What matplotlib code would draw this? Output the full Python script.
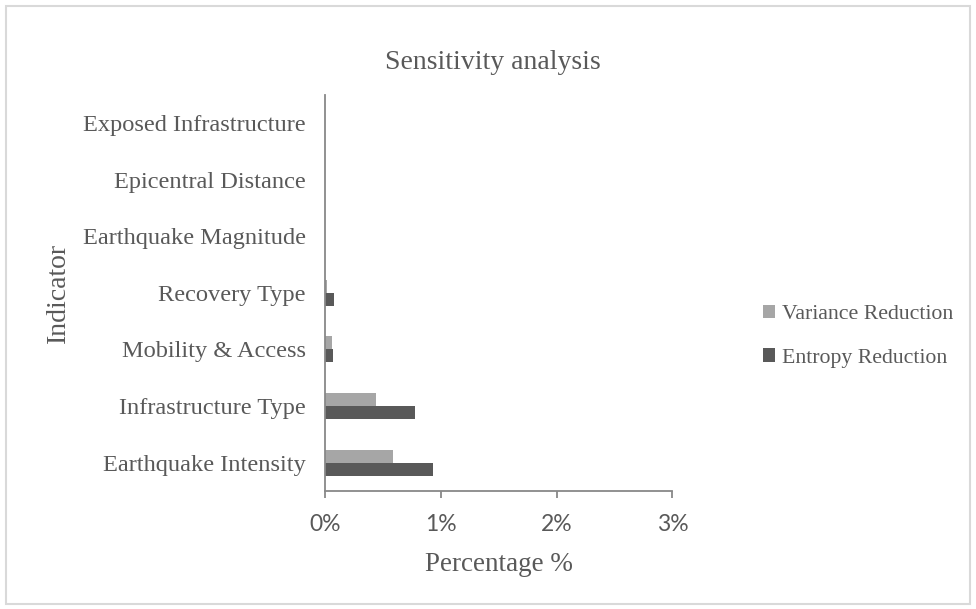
"""Sensitivity analysis bar chart"""

import numpy as np
import matplotlib
matplotlib.use('Agg')
import matplotlib.pyplot as plt
from matplotlib.ticker import FuncFormatter
from matplotlib.patches import Rectangle

# Bottom to top, as drawn
lIndicators = [
	'Earthquake Intensity', 'Infrastructure Type', 'Mobility & Access',
	'Recovery Type', 'Earthquake Magnitude', 'Epicentral Distance',
	'Exposed Infrastructure',
]
aVariance = [0.59, 0.44, 0.06, 0.02, 0.0, 0.0, 0.0]  # percent
aEntropy  = [0.93, 0.78, 0.07, 0.08, 0.0, 0.0, 0.0]  # percent
lTicks = [0, 1, 2, 3]

sText = '#595959'
sSerif = 'Liberation Serif'
sSans = 'Lato'

fig = plt.figure(figsize=(9.76, 6.09), dpi=100)
ax = fig.add_axes([0.333, 0.194, 0.356, 0.65])

aY = np.arange(len(lIndicators))
h = 0.23
ax.barh(aY + h/2, aVariance, height=h, color='#a6a6a6', label='Variance Reduction')
ax.barh(aY - h/2, aEntropy, height=h, color='#595959', label='Entropy Reduction')

ax.set_xlim(0, 3)
ax.set_ylim(-0.5, len(lIndicators) - 0.5)
ax.set_xticks(lTicks)
ax.xaxis.set_major_formatter(FuncFormatter(lambda v, p: '%d%%' % v))
ax.set_yticks(aY)
ax.set_yticklabels(lIndicators, fontfamily=sSerif, fontsize=17.6, color=sText)
for lbl in ax.get_xticklabels():
	lbl.set_fontfamily(sSans)
	lbl.set_fontsize(16.5)
	lbl.set_color(sText)

for s in ['top', 'right']:
	ax.spines[s].set_visible(False)
for s in ['left', 'bottom']:
	ax.spines[s].set_color('#888888')
	ax.spines[s].set_linewidth(1.3)
ax.tick_params(axis='y', length=0, pad=14)
ax.tick_params(axis='x', length=5, color='#888888', width=1.3, pad=12)

ax.set_xlabel('Percentage %', fontfamily=sSerif, fontsize=19.5, color=sText, labelpad=12)
ax.set_ylabel('Indicator', fontfamily=sSerif, fontsize=20, color=sText)
ax.yaxis.set_label_coords(-0.73, 0.5)
fig.text(0.505, 0.898, 'Sensitivity analysis', ha='center', va='center',
	fontfamily=sSerif, fontsize=20, color=sText)

leg = ax.legend(loc='center left', bbox_to_anchor=(1.26, 0.39), frameon=False,
	prop={'family': sSerif, 'size': 15.7}, handlelength=0.55, handleheight=0.55,
	handletextpad=0.35, labelspacing=1.1, borderpad=0, borderaxespad=0)
for t in leg.get_texts():
	t.set_color(sText)

# light outer frame
fig.patches.append(Rectangle((0.006, 0.008), 0.988, 0.982, transform=fig.transFigure,
	fill=False, edgecolor='#d9d9d9', linewidth=1.5))

fig.savefig('out.png', dpi=100, facecolor='white')
